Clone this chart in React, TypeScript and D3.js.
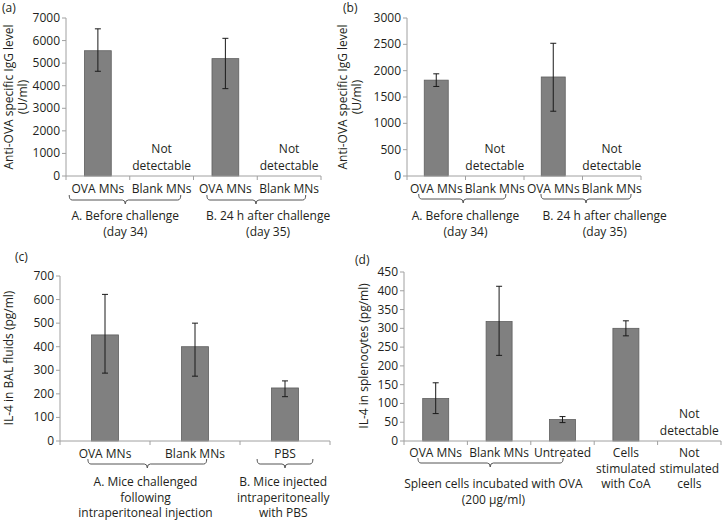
import React from "react";
import * as d3 from "d3";

// (a) anti-OVA IgG, serum
const aCategories = ["OVA MNs", "Blank MNs", "OVA MNs", "Blank MNs"];
const aMeans = [5550, null, 5200, null];
const aHigh = [6520, null, 6100, null];
const aLow = [4640, null, 3870, null];
const aTicks = [0, 1000, 2000, 3000, 4000, 5000, 6000, 7000];
const aGroups = [["A. Before challenge", "(day 34)"], ["B. 24 h after challenge", "(day 35)"]];
const aTitle = ["Anti-OVA specific IgG level", "(U/ml)"];

// (b) anti-OVA IgG, second readout
const bCategories = ["OVA MNs", "Blank MNs", "OVA MNs", "Blank MNs"];
const bMeans = [1820, null, 1880, null];
const bHigh = [1940, null, 2520, null];
const bLow = [1700, null, 1230, null];
const bTicks = [0, 500, 1000, 1500, 2000, 2500, 3000];
const bGroups = [["A. Before challenge", "(day 34)"], ["B. 24 h after challenge", "(day 35)"]];
const bTitle = ["Anti-OVA specific IgG level", "(U/ml)"];

// (c) IL-4 in BAL
const cCategories = ["OVA MNs", "Blank MNs", "PBS"];
const cMeans = [450, 400, 225];
const cHigh = [622, 500, 255];
const cLow = [288, 275, 188];
const cTicks = [0, 100, 200, 300, 400, 500, 600, 700];
const cGroups = [
  ["A. Mice challenged", "following", "intraperitoneal injection"],
  ["B. Mice injected", "intraperitoneally", "with PBS"],
];
const cTitle = ["IL-4 in BAL fluids (pg/ml)"];

// (d) IL-4 in splenocytes
const dCategories = ["OVA MNs", "Blank MNs", "Untreated", "Cells\nstimulated\nwith CoA", "Not\nstimulated\ncells"];
const dMeans = [113, 318, 57, 300, null];
const dHigh = [155, 412, 65, 320, null];
const dLow = [73, 228, 49, 280, null];
const dTicks = [0, 50, 100, 150, 200, 250, 300, 350, 400, 450];
const dGroups = [["Spleen cells incubated with OVA", "(200 \u03bcg/ml)"]];
const dTitle = ["IL-4 in splenocytes (pg/ml)"];

// layout: braces are [from, to, tip, label centre] in band units
const layoutA = { tag: "(a)", tagX: 2, tagY: 12, x0: 66, x1: 321, yTop: 18, yBot: 176, barFrac: 0.42,
  catBase: 193, braceY: 200, groupBase: 220, titleX: [9, 23], titleY: 97,
  braces: [[0.05, 1.8, 0.93, 0.93], [2.21, 3.76, 2.98, 3.17]] };
const layoutB = { tag: "(b)", tagX: 343, tagY: 12, x0: 407, x1: 641, yTop: 18, yBot: 176, barFrac: 0.41,
  catBase: 193, braceY: 199, groupBase: 220, titleX: [343, 357], titleY: 97,
  braces: [[0.2, 1.69, 0.96, 1.0], [2.29, 3.83, 3.06, 3.38]] };
const layoutC = { tag: "(c)", tagX: 15, tagY: 261, x0: 60, x1: 330, yTop: 276, yBot: 441, barFrac: 0.3,
  catBase: 458, braceY: 464, groupBase: 486, titleX: [9], titleY: 358,
  braces: [[0.31, 1.63, 0.97, 0.95], [2.19, 2.81, 2.5, 2.48]] };
const layoutD = { tag: "(d)", tagX: 355, tagY: 264, x0: 404, x1: 721, yTop: 272, yBot: 441, barFrac: 0.41,
  catBase: 457, braceY: 463, groupBase: 488, titleX: [364], titleY: 356,
  braces: [[0.22, 2.51, 1.36, 1.41]] };

const FONT = "'Open Sans', 'Noto Sans', sans-serif";
const TEXT = "#231f20";
const AXIS = "#a0a0a0";
const LINE_H = 15.5;

function Panel({ categories, means, high, low, ticks, groups, title, L }: any) {
  const x = d3.scaleBand<number>().domain(d3.range(categories.length)).range([L.x0, L.x1]);
  const bw = x.bandwidth();
  const y = d3.scaleLinear().domain([0, d3.max(ticks) as number]).range([L.yBot, L.yTop]);
  const u = (v: number) => L.x0 + v * bw;
  const barW = bw * L.barFrac;

  return (
    <g fontFamily={FONT} fontSize={12} fill={TEXT}>
      <text x={L.tagX} y={L.tagY}>{L.tag}</text>

      {title.map((t: string, i: number) => (
        <text key={i} transform={`translate(${L.titleX[i] + 4},${L.titleY}) rotate(-90)`} textAnchor="middle">{t}</text>
      ))}

      {/* y axis */}
      <line x1={L.x0} x2={L.x0} y1={L.yTop} y2={L.yBot} stroke={AXIS} />
      {ticks.map((t: number) => (
        <g key={t}>
          <line x1={L.x0 - 4} x2={L.x0} y1={y(t)} y2={y(t)} stroke={AXIS} />
          <text x={L.x0 - 6} y={y(t) + 4} textAnchor="end">{t}</text>
        </g>
      ))}

      {/* bars + error bars */}
      {means.map((m: number | null, i: number) => {
        const cx = (x(i) as number) + bw / 2;
        if (m == null) {
          return (
            <g key={i} textAnchor="middle">
              <text x={cx} y={L.yBot - 23}>Not</text>
              <text x={cx} y={L.yBot - 6}>detectable</text>
            </g>
          );
        }
        return (
          <g key={i}>
            <rect x={cx - barW / 2} y={y(m)} width={barW} height={L.yBot - y(m)} fill="#808080" stroke="#5e5e5e" strokeWidth={0.8} />
            <g stroke="#1a1a1a" strokeWidth={1}>
              <line x1={cx} x2={cx} y1={y(high[i])} y2={y(low[i])} />
              <line x1={cx - 3} x2={cx + 3} y1={y(high[i])} y2={y(high[i])} />
              <line x1={cx - 3} x2={cx + 3} y1={y(low[i])} y2={y(low[i])} />
            </g>
          </g>
        );
      })}

      {/* x axis */}
      <line x1={L.x0} x2={L.x1} y1={L.yBot} y2={L.yBot} stroke={AXIS} />
      {d3.range(categories.length + 1).map((k) => (
        <line key={k} x1={u(k)} x2={u(k)} y1={L.yBot} y2={L.yBot + 4} stroke={AXIS} />
      ))}
      {categories.map((c: string, i: number) => (
        <g key={i} textAnchor="middle">
          {c.split("\n").map((s, j) => (
            <text key={j} x={(x(i) as number) + bw / 2} y={L.catBase + j * LINE_H}>{s}</text>
          ))}
        </g>
      ))}

      {/* group braces */}
      {groups.map((lines: string[], gi: number) => {
        const [f, t, tip, lc] = L.braces[gi];
        const x0 = u(f), x1 = u(t), xt = u(tip), yb = L.braceY;
        const d = `M${x0},${yb - 5} Q${x0},${yb} ${x0 + 3},${yb} L${xt - 3},${yb} Q${xt},${yb} ${xt},${yb + 4} Q${xt},${yb} ${xt + 3},${yb} L${x1 - 3},${yb} Q${x1},${yb} ${x1},${yb - 5}`;
        return (
          <g key={gi}>
            <path d={d} fill="none" stroke="#555" strokeWidth={1} />
            {lines.map((s, j) => (
              <text key={j} x={u(lc)} y={L.groupBase + j * LINE_H} textAnchor="middle">{s}</text>
            ))}
          </g>
        );
      })}
    </g>
  );
}

export default function App() {
  return (
    <svg width={724} height={520} style={{ position: "absolute", left: 0, top: 0, background: "#fff" }}>
      <Panel categories={aCategories} means={aMeans} high={aHigh} low={aLow} ticks={aTicks} groups={aGroups} title={aTitle} L={layoutA} />
      <Panel categories={bCategories} means={bMeans} high={bHigh} low={bLow} ticks={bTicks} groups={bGroups} title={bTitle} L={layoutB} />
      <Panel categories={cCategories} means={cMeans} high={cHigh} low={cLow} ticks={cTicks} groups={cGroups} title={cTitle} L={layoutC} />
      <Panel categories={dCategories} means={dMeans} high={dHigh} low={dLow} ticks={dTicks} groups={dGroups} title={dTitle} L={layoutD} />
    </svg>
  );
}
